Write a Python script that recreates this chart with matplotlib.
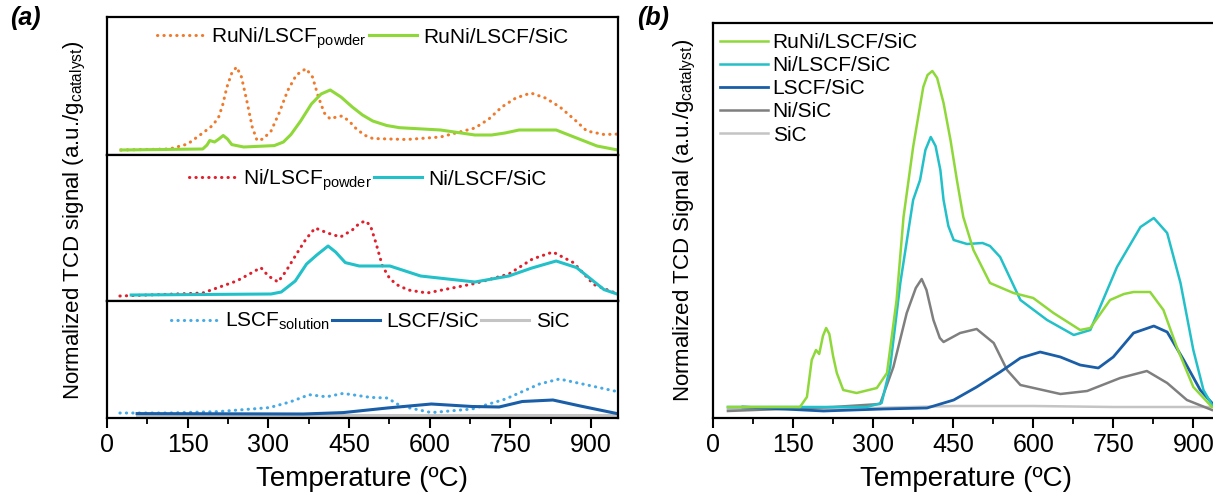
import numpy as np
import matplotlib
matplotlib.use("Agg")
import matplotlib.pyplot as plt
from matplotlib.ticker import MultipleLocator

plt.rcParams['font.family'] = ['Liberation Sans', 'DejaVu Sans']
plt.rcParams['mathtext.fontset'] = 'custom'
plt.rcParams['mathtext.rm'] = 'Liberation Sans'
plt.rcParams['mathtext.it'] = 'Liberation Sans:italic'

# ---- (a) top: RuNi catalysts ----
t_runi_pow = [26, 116, 150, 178, 195, 207, 215, 223, 232, 241, 250, 260, 270, 279, 290, 305,
              320, 336, 352, 370, 382, 393, 404, 415, 426, 437, 450, 462, 478, 494, 557,
              620, 684, 710, 734, 760, 788, 815, 842, 870, 892, 924, 956]
s_runi_pow = [5, 6, 11, 22, 29, 37, 50, 68, 82, 88, 78, 54, 28, 14.5, 16, 24,
              42, 64.5, 80, 86.4, 78, 58, 42, 36, 38, 39, 34, 27, 20, 16.5, 15.5,
              18, 27, 36, 48, 57, 62, 57, 48, 35, 24, 20.5, 21]
t_runi_sic_a = [26, 178, 186, 191, 200, 208, 216, 224, 232, 254, 311, 328, 342, 360, 380, 398,
                415, 435, 456, 475, 494, 520, 544, 620, 684, 715, 740, 766, 835, 873, 911, 959]
s_runi_sic_a = [5, 6, 10, 14.5, 13, 16, 19.5, 16, 10.4, 8, 9.4, 13, 20.5, 34, 51, 61,
                65, 58, 48, 40, 34, 29.5, 27.3, 25, 20, 20, 22, 25, 25, 17, 9, 4]

# ---- (a) middle: Ni catalysts ----
t_ni_pow = [24, 178, 241, 265, 286, 300, 318, 333, 350, 370, 387, 410, 434, 456, 470, 481,
            490, 500, 512, 525, 538, 560, 595, 684, 747, 791, 829, 867, 905, 959]
s_ni_pow = [5, 8, 20, 27, 33.4, 25, 19, 30, 45, 62, 73, 68, 64, 71, 78, 80,
            75, 58, 35, 23, 16.5, 11, 8, 17.5, 27, 42, 49, 38.4, 16.5, 5]
t_ni_sic_a = [45, 305, 324, 350, 371, 390, 411, 425, 443, 469, 526, 583, 684, 747, 790, 835,
              873, 924, 959]
s_ni_sic_a = [6, 7, 9, 20, 37, 46, 55, 49, 38.4, 35, 35, 25, 19, 25, 33, 40,
              33.4, 11.4, 5]

# ---- (a) bottom: supports ----
t_lscf_sol = [24, 113, 207, 302, 340, 376, 408, 439, 490, 521, 546, 603, 679, 741, 804, 841,
              898, 952]
s_lscf_sol = [5, 5, 6.4, 10.4, 16, 23.3, 21.2, 24.6, 20.6, 20, 12, 5.4, 9, 19, 34, 39,
              32.4, 26]
t_lscf_sic_a = [56, 365, 439, 521, 603, 679, 729, 772, 829, 880, 952]
s_lscf_sic_a = [4.4, 4, 5.4, 10, 14, 11.5, 11, 16.5, 18, 12, 4]
t_sic_a = [56, 950]
s_sic_a = [3.5, 3.5]

# ---- (b) all SiC-supported samples ----
t_runi_b = [28, 163, 176, 185, 193, 199, 206, 212, 218, 225, 232, 244, 269, 307, 326, 344,
            357, 375, 394, 402, 411, 420, 432, 445, 457, 469, 488, 519, 563, 600, 638, 688,
            707, 744, 770, 788, 819, 844, 869, 900, 935]
s_runi_b = [11, 11, 21, 58, 68, 64, 82, 90, 84, 62, 45, 28, 25, 30, 45, 118,
            201, 271, 331, 343, 347, 340, 315, 278, 238, 201, 168, 135, 125, 120, 105, 88,
            90, 118, 124, 126, 126, 108, 71, 31, 11]
t_ni_b = [28, 288, 316, 332, 351, 375, 388, 398, 408, 417, 426, 432, 441, 451, 476, 505,
          519, 538, 576, 626, 676, 707, 757, 801, 826, 851, 876, 900, 919, 935]
s_ni_b = [11, 11, 15, 51, 135, 218, 238, 268, 281, 272, 248, 218, 192, 178, 174, 175,
          172, 161, 118, 98, 83, 88, 151, 191, 200, 185, 135, 68, 28, 13]
t_lscf_b = [56, 132, 207, 319, 401, 451, 494, 538, 576, 613, 651, 688, 722, 750, 788, 826,
            851, 882, 913, 935]
s_lscf_b = [11, 9, 7, 9, 10, 18, 31, 46, 60, 66, 61, 53, 50, 61, 85, 92,
            86, 58, 28, 15]
t_nisic_b = [28, 225, 313, 338, 363, 380, 391, 400, 413, 425, 432, 463, 494, 526, 551, 576,
             651, 701, 763, 813, 851, 888, 935]
s_nisic_b = [7, 11, 14, 51, 105, 130, 139, 128, 98, 80, 76, 85, 89, 75, 48, 33,
             24, 27, 40, 47, 35, 18, 8]
t_sic_b = [28, 150, 300, 450, 600, 750, 900, 935]
s_sic_b = [9, 9, 10, 12, 12, 11, 11, 11]

GREEN = '#8fd83a'
ORANGE = '#f07a2c'
RED = '#e0202c'
CYAN = '#22c0c8'
LBLUE = '#46aae6'
DBLUE = '#1a5ea8'
GRAY = '#7f7f7f'
LGRAY = '#c4c4c4'
DOT = (0, (0.1, 2.0))

fig = plt.figure(figsize=(12.13, 4.98), dpi=100)
W, H = 1213.0, 498.0

def box(x0, y0, x1, y1):
    return [x0 / W, 1 - y1 / H, (x1 - x0) / W, (y1 - y0) / H]

ax1 = fig.add_axes(box(107, 17, 618, 155))
ax2 = fig.add_axes(box(107, 155, 618, 301))
ax3 = fig.add_axes(box(107, 301, 618, 418))
axb = fig.add_axes(box(713, 23, 1220, 418))

for ax, top in [(ax1, 138), (ax2, 146), (ax3, 117)]:
    ax.set_xlim(0, 950)
    ax.set_ylim(0, top)
    ax.set_yticks([])
    for sp in ax.spines.values():
        sp.set_linewidth(1.6)

for ax in (ax1, ax2):
    ax.tick_params(axis='x', which='both', bottom=False, labelbottom=False)

dot_kw = dict(lw=2.2, ls=DOT, dash_capstyle='round')
sol_kw = dict(lw=2.2, solid_joinstyle='round')

ax1.plot(t_runi_pow, s_runi_pow, color=ORANGE, label=r'RuNi/LSCF$_{\mathrm{powder}}$', **dot_kw)
ax1.plot(t_runi_sic_a, s_runi_sic_a, color=GREEN, label='RuNi/LSCF/SiC', **sol_kw)
ax2.plot(t_ni_pow, s_ni_pow, color=RED, label=r'Ni/LSCF$_{\mathrm{powder}}$', **dot_kw)
ax2.plot(t_ni_sic_a, s_ni_sic_a, color=CYAN, label='Ni/LSCF/SiC', **sol_kw)
ax3.plot(t_sic_a, s_sic_a, color=LGRAY, lw=2.2, label='SiC', zorder=1)
ax3.plot(t_lscf_sol, s_lscf_sol, color=LBLUE, label=r'LSCF$_{\mathrm{solution}}$', **dot_kw)
ax3.plot(t_lscf_sic_a, s_lscf_sic_a, color=DBLUE, label='LSCF/SiC', **sol_kw)

leg_kw = dict(frameon=False, fontsize=15, handlelength=2.3, handletextpad=0.3,
              columnspacing=0.1, borderaxespad=0.2, loc='upper center')
ax1.legend(ncol=2, bbox_to_anchor=(0.5, 1.03), **leg_kw)
ax2.legend(ncol=2, bbox_to_anchor=(0.51, 1.0), **leg_kw)
h, l = ax3.get_legend_handles_labels()
ax3.legend([h[1], h[2], h[0]], [l[1], l[2], l[0]], ncol=3, bbox_to_anchor=(0.515, 1.02), **leg_kw)

for ax in (ax3, axb):
    ax.set_xlim(0, 950)
    ax.xaxis.set_major_locator(MultipleLocator(150))
    ax.xaxis.set_minor_locator(MultipleLocator(75))
    ax.tick_params(axis='x', which='major', length=7, width=1.5, labelsize=18, pad=4)
    ax.tick_params(axis='x', which='minor', length=4, width=1.3)
    ax.set_xlabel('Temperature (ºC)', fontsize=20, labelpad=6)

axb.plot(t_sic_b, s_sic_b, color=LGRAY, lw=1.8, label='SiC')
axb.plot(t_nisic_b, s_nisic_b, color=GRAY, lw=1.8, label='Ni/SiC')
axb.plot(t_lscf_b, s_lscf_b, color=DBLUE, lw=2.0, label='LSCF/SiC')
axb.plot(t_ni_b, s_ni_b, color=CYAN, lw=1.8, label='Ni/LSCF/SiC')
axb.plot(t_runi_b, s_runi_b, color=GREEN, lw=1.8, label='RuNi/LSCF/SiC')
axb.set_ylim(0, 395)
axb.set_yticks([])
for sp in axb.spines.values():
    sp.set_linewidth(1.6)
h, l = axb.get_legend_handles_labels()
axb.legend(h[::-1], l[::-1], loc='upper left', frameon=False, fontsize=15,
           handlelength=2.3, handletextpad=0.2, labelspacing=0.2,
           borderaxespad=0.3, bbox_to_anchor=(-0.014, 1.012))

ylab = r'Normalized TCD signal (a.u./g$_{\mathrm{catalyst}}$)'
fig.text(75 / W, 1 - 220 / H, ylab, rotation=90, ha='center', va='center', fontsize=16)
fig.text(685 / W, 1 - 220 / H, r'Normalized TCD Signal (a.u./g$_{\mathrm{catalyst}}$)',
         rotation=90, ha='center', va='center', fontsize=16)

fig.text(10 / W, 1 - 18 / H, '(a)', fontsize=18, fontweight='bold', fontstyle='italic',
         ha='left', va='center')
fig.text(637 / W, 1 - 18 / H, '(b)', fontsize=18, fontweight='bold', fontstyle='italic',
         ha='left', va='center')

fig.savefig('out.png', dpi=100)
